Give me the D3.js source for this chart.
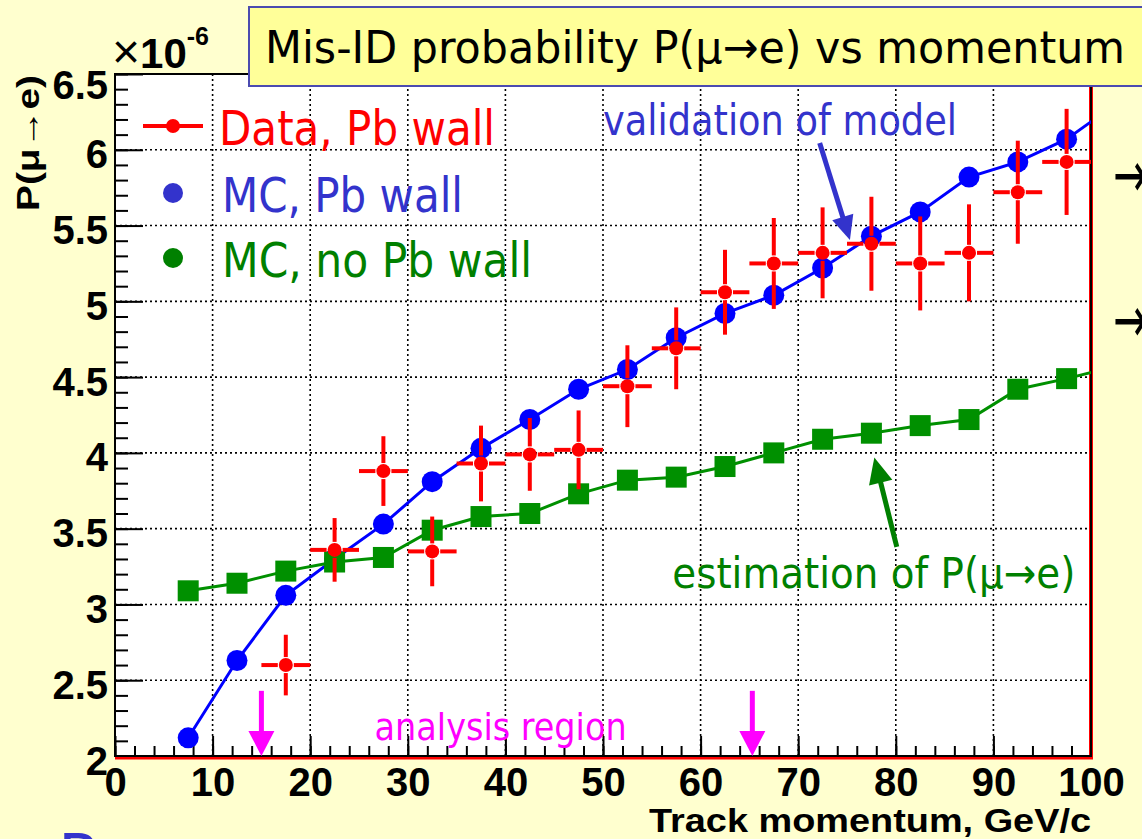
<!DOCTYPE html>
<html>
<head>
<meta charset="utf-8">
<script src="https://cdn.jsdelivr.net/npm/d3@7"></script>
<style>
  html, body { margin: 0; padding: 0; background: #ffffcf; }
  svg { display: block; }
</style>
</head>
<body>
<svg id="chart" width="1142" height="839"></svg>
<script>
// ── Data ────────────────────────────────────────────────────────────────────
const mcBins = [7.5, 12.5, 17.5, 22.5, 27.5, 32.5, 37.5, 42.5, 47.5, 52.5,
                57.5, 62.5, 67.5, 72.5, 77.5, 82.5, 87.5, 92.5, 97.5, 102.5];
const mcPbWall = [2.12, 2.63, 3.06, 3.30, 3.53, 3.81, 4.03, 4.22, 4.42, 4.55,
                  4.76, 4.92, 5.04, 5.22, 5.43, 5.59, 5.82, 5.92, 6.07, 6.30];
const mcNoPbWall = [3.09, 3.14, 3.22, 3.28, 3.31, 3.49, 3.58, 3.60, 3.73, 3.82,
                    3.84, 3.91, 4.00, 4.09, 4.13, 4.18, 4.22, 4.42, 4.49, 4.57];

const dataBins = [17.5, 22.5, 27.5, 32.5, 37.5, 42.5, 47.5, 52.5, 57.5,
                  62.5, 67.5, 72.5, 77.5, 82.5, 87.5, 92.5, 97.5];
const dataPbWall = [2.60, 3.36, 3.88, 3.35, 3.93, 3.99, 4.02, 4.44, 4.69,
                    5.06, 5.25, 5.32, 5.38, 5.25, 5.32, 5.72, 5.92];
const dataErr = [0.20, 0.21, 0.23, 0.23, 0.25, 0.24, 0.26, 0.27, 0.27,
                 0.28, 0.30, 0.30, 0.31, 0.31, 0.32, 0.34, 0.35];
const binHalfWidth = 2.5;

const xTicks = [0, 10, 20, 30, 40, 50, 60, 70, 80, 90, 100];
const yTicks = [2, 2.5, 3, 3.5, 4, 4.5, 5, 5.5, 6, 6.5];
const yTickLabels = ['2', '2.5', '3', '3.5', '4', '4.5', '5', '5.5', '6', '6.5'];

const legendItems = [
  { label: 'Data, Pb wall',  color: '#ff0000', kind: 'data' },
  { label: 'MC, Pb wall',    color: '#3333cc', kind: 'dot' },
  { label: 'MC, no Pb wall', color: '#008000', kind: 'dot' },
];

// ── Layout ──────────────────────────────────────────────────────────────────
const plot = { left: 115, right: 1091, top: 74, bottom: 756 };
const BOLD = '"Liberation Sans", Arial, sans-serif';
const SANS = '"DejaVu Sans", Verdana, sans-serif';

const svg = d3.select('#chart');
const x = d3.scaleLinear([0, 100], [plot.left, plot.right]);
const y = d3.scaleLinear([2, 6.5], [plot.bottom, plot.top]);

// squeeze text to a measured width (the slide is horizontally condensed)
function fit(sel, w) {
  return sel.attr('textLength', w).attr('lengthAdjust', 'spacingAndGlyphs');
}

const defs = svg.append('defs');
defs.append('clipPath').attr('id', 'plot-clip')
  .append('rect')
  .attr('x', plot.left).attr('y', plot.top)
  .attr('width', plot.right - plot.left).attr('height', plot.bottom - plot.top);

// ── Plot frame + grid ───────────────────────────────────────────────────────
svg.append('rect')
  .attr('x', plot.left).attr('y', plot.top)
  .attr('width', plot.right - plot.left).attr('height', plot.bottom - plot.top)
  .attr('fill', '#ffffff');

const grid = svg.append('g')
  .attr('stroke', '#000').attr('stroke-width', 1.6).attr('stroke-dasharray', '2,3');
grid.selectAll('.gx').data(xTicks.slice(1, -1)).join('line')
  .attr('x1', d => x(d)).attr('x2', d => x(d))
  .attr('y1', plot.top).attr('y2', plot.bottom);
grid.selectAll('.gy').data(yTicks.slice(1, -1)).join('line')
  .attr('x1', plot.left).attr('x2', plot.right)
  .attr('y1', d => y(d)).attr('y2', d => y(d));

// ── Axes (ticks point inward, ROOT style) ───────────────────────────────────
const xMinor = svg.append('g')
  .attr('transform', `translate(0,${plot.bottom})`)
  .call(d3.axisBottom(x).tickValues(d3.range(0, 101, 2)).tickSize(-10).tickFormat(''));
const xMajor = svg.append('g')
  .attr('transform', `translate(0,${plot.bottom})`)
  .call(d3.axisBottom(x).tickValues(xTicks).tickSize(-20).tickPadding(12));
const yMinor = svg.append('g')
  .attr('transform', `translate(${plot.left},0)`)
  .call(d3.axisLeft(y).tickValues(d3.range(20, 66, 1).map(v => v / 10)).tickSize(-13).tickFormat(''));
const yMajor = svg.append('g')
  .attr('transform', `translate(${plot.left},0)`)
  .call(d3.axisLeft(y).tickValues(yTicks).tickSize(-28).tickPadding(7)
    .tickFormat((d, i) => yTickLabels[i]));

for (const g of [xMinor, xMajor, yMinor, yMajor]) {
  g.select('.domain').remove();
  g.selectAll('line').attr('stroke', '#000').attr('stroke-width', 2);
}
xMajor.selectAll('text')
  .attr('font-family', BOLD).attr('font-weight', 'bold').attr('font-size', 40).attr('fill', '#000');
yMajor.selectAll('text')
  .attr('font-family', BOLD).attr('font-weight', 'bold').attr('font-size', 40).attr('fill', '#000')
  .attr('dy', (d, i) => i === yTicks.length - 1 ? '0.6em' : '0.45em');

// frame: red edge on the right and bottom under the black border
svg.append('path')
  .attr('d', `M${plot.right},${plot.top}V${plot.bottom + 1.5}H${plot.left}`)
  .attr('fill', 'none').attr('stroke', '#ff0000').attr('stroke-width', 4);
svg.append('rect')
  .attr('x', plot.left).attr('y', plot.top)
  .attr('width', plot.right - plot.left).attr('height', plot.bottom - plot.top)
  .attr('fill', 'none').attr('stroke', '#000').attr('stroke-width', 2);

// ── Series ──────────────────────────────────────────────────────────────────
const series = svg.append('g').attr('clip-path', 'url(#plot-clip)');
const line = d3.line().x(d => x(d[0])).y(d => y(d[1]));

// MC, Pb wall
const mcPb = mcBins.map((b, i) => [b, mcPbWall[i]]);
series.append('path').datum(mcPb)
  .attr('d', line).attr('fill', 'none').attr('stroke', '#0000ff').attr('stroke-width', 3);
series.selectAll('.mcpb').data(mcPb).join('circle')
  .attr('cx', d => x(d[0])).attr('cy', d => y(d[1])).attr('r', 10.5)
  .attr('fill', '#0000ff');

// MC, no Pb wall
const mcNo = mcBins.map((b, i) => [b, mcNoPbWall[i]]);
series.append('path').datum(mcNo)
  .attr('d', line).attr('fill', 'none').attr('stroke', '#009000').attr('stroke-width', 3);
series.selectAll('.mcno').data(mcNo).join('rect')
  .attr('x', d => x(d[0]) - 10.5).attr('y', d => y(d[1]) - 10.5)
  .attr('width', 21).attr('height', 21)
  .attr('fill', '#009000');

// Data, Pb wall with error bars (gap around the marker)
const gap = 8;
const dataPts = dataBins.map((b, i) => ({ x: b, v: dataPbWall[i], e: dataErr[i] }));
const eb = series.append('g').attr('stroke', '#ff0000').attr('stroke-width', 4);
for (const d of dataPts) {
  const cx = x(d.x), cy = y(d.v);
  eb.append('line').attr('x1', x(d.x - binHalfWidth)).attr('x2', cx - gap).attr('y1', cy).attr('y2', cy);
  eb.append('line').attr('x1', cx + gap).attr('x2', x(d.x + binHalfWidth)).attr('y1', cy).attr('y2', cy);
  eb.append('line').attr('x1', cx).attr('x2', cx).attr('y1', y(d.v + d.e)).attr('y2', cy - gap);
  eb.append('line').attr('x1', cx).attr('x2', cx).attr('y1', cy + gap).attr('y2', y(d.v - d.e));
}
series.selectAll('.data').data(dataPts).join('circle')
  .attr('cx', d => x(d.x)).attr('cy', d => y(d.v)).attr('r', 7)
  .attr('fill', '#ff0000');

// ── Legend ──────────────────────────────────────────────────────────────────
const legendX = 173;
const legendRowY = [126, 193, 258];
const legendTextX = [219, 222, 222];
const legendTextW = [276, 241, 310];
legendItems.forEach((item, i) => {
  const ly = legendRowY[i];
  if (item.kind === 'data') {
    svg.append('line')
      .attr('x1', legendX - 30).attr('x2', legendX + 30).attr('y1', ly).attr('y2', ly)
      .attr('stroke', item.color).attr('stroke-width', 4);
    svg.append('circle').attr('cx', legendX).attr('cy', ly).attr('r', 7).attr('fill', item.color);
  } else {
    svg.append('circle').attr('cx', legendX).attr('cy', ly).attr('r', 10).attr('fill', item.color);
  }
  svg.append('text')
    .attr('x', legendTextX[i]).attr('y', ly + 19)
    .attr('font-family', SANS).attr('font-size', 48).attr('fill', item.color)
    .text(item.label)
    .call(fit, legendTextW[i]);
});

// ── Annotations ─────────────────────────────────────────────────────────────
function arrow(x1, y1, x2, y2, color, width, headL, headW) {
  const dx = x2 - x1, dy = y2 - y1, len = Math.hypot(dx, dy);
  const ux = dx / len, uy = dy / len;
  const bx = x2 - ux * headL, by = y2 - uy * headL;
  svg.append('line')
    .attr('x1', x1).attr('y1', y1).attr('x2', bx + ux * 2).attr('y2', by + uy * 2)
    .attr('stroke', color).attr('stroke-width', width);
  svg.append('path')
    .attr('d', `M${x2},${y2}L${bx - uy * headW / 2},${by + ux * headW / 2}` +
               `L${bx + uy * headW / 2},${by - ux * headW / 2}Z`)
    .attr('fill', color);
}

svg.append('text')
  .attr('x', x(50.0)).attr('y', y(6.10))
  .attr('font-family', SANS).attr('font-size', 42).attr('fill', '#3333cc')
  .text('validation of model').call(fit, 354);
arrow(x(72.2), y(6.045), x(75.3), y(5.405), '#3333cc', 5, 24, 22);

svg.append('text')
  .attr('x', x(57.1)).attr('y', y(3.11))
  .attr('font-family', SANS).attr('font-size', 42).attr('fill', '#008000')
  .text('estimation of P(\u03bc\u2192e)').call(fit, 403);
arrow(x(80.1), y(3.38), x(77.8), y(3.97), '#008000', 5, 26, 24);

svg.append('text')
  .attr('x', x(26.6)).attr('y', y(2.107))
  .attr('font-family', '"Comic Sans MS", "DejaVu Sans", sans-serif')
  .attr('font-size', 38).attr('fill', '#ff00ff')
  .text('analysis region').call(fit, 252);
for (const p of [15, 65.3]) {
  arrow(x(p), y(2.43), x(p), y(2.0), '#ff00ff', 5, 25, 26);
}

// ── Axis titles ─────────────────────────────────────────────────────────────
svg.append('text')
  .attr('x', 1091).attr('y', 832).attr('text-anchor', 'end')
  .attr('font-family', BOLD).attr('font-weight', 'bold').attr('font-size', 33)
  .text('Track momentum, GeV/c').call(fit, 442);

svg.append('text')
  .attr('transform', 'translate(39,75) rotate(-90)')
  .attr('text-anchor', 'end')
  .attr('font-family', BOLD).attr('font-weight', 'bold').attr('font-size', 32)
  .text('P(\u03bc\u2192e)').call(fit, 136);

const expo = svg.append('text')
  .attr('x', 112).attr('y', 68)
  .attr('font-family', BOLD);
expo.append('tspan').attr('font-size', 48).text('\u00d7');
expo.append('tspan').attr('font-weight', 'bold').attr('font-size', 42).text('10');
expo.append('tspan').attr('font-weight', 'bold').attr('font-size', 25).attr('dy', -23).text('-6');

// ── Slide decorations around the chart ─────────────────────────────────────
svg.append('rect')
  .attr('x', 249).attr('y', 7).attr('width', 920).attr('height', 79)
  .attr('fill', '#ffff99').attr('stroke', '#4b4bb0').attr('stroke-width', 2);
svg.append('text')
  .attr('x', 265).attr('y', 63)
  .attr('font-family', SANS).attr('font-size', 45).attr('fill', '#000')
  .text('Mis-ID probability P(\u03bc\u2192e) vs momentum').call(fit, 860);

for (const ay of [177, 322]) {
  svg.append('text')
    .attr('x', 1113).attr('y', ay + 20)
    .attr('font-family', SANS).attr('font-size', 64).attr('fill', '#000')
    .text('\u2192').call(fit, 34);
}
svg.append('text')
  .attr('x', 58).attr('y', 880)
  .attr('font-family', SANS).attr('font-size', 64).attr('fill', '#3333cc')
  .text('P');
</script>
</body>
</html>
